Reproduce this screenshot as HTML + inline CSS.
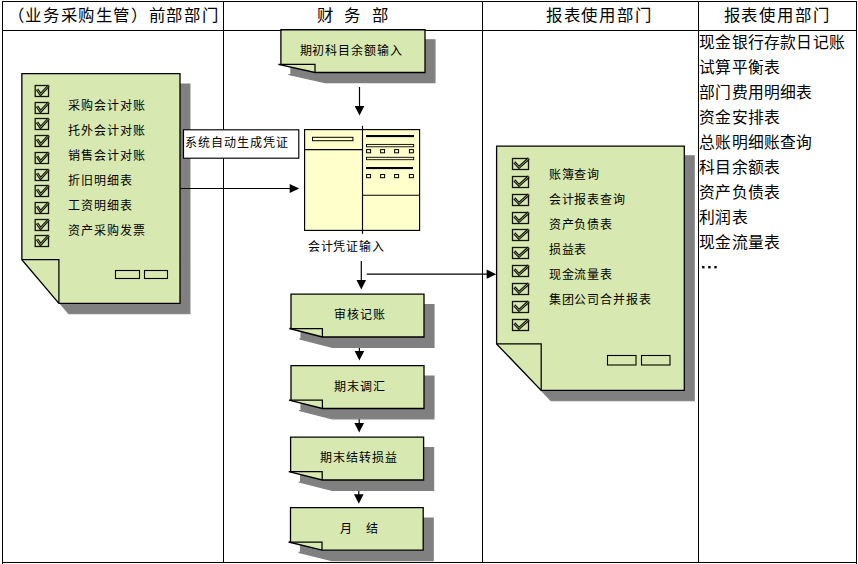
<!DOCTYPE html>
<html lang="zh-CN">
<head>
<meta charset="utf-8">
<title>财务流程图</title>
<style>
html,body{margin:0;padding:0;background:#fff}
body{width:858px;height:564px;position:relative;overflow:hidden;font-family:"Liberation Sans",sans-serif;color:#000}
svg{position:absolute;left:0;top:0}
.t{position:absolute;white-space:nowrap;line-height:1;transform:translateY(-50%);margin-top:0.5px}
.s{font-size:12px;letter-spacing:0.95px}
.m{font-size:15.8px;letter-spacing:0.2px}
.h{font-size:16.4px}
</style>
</head>
<body>
<svg width="858" height="564" viewBox="0 0 858 564">
<g shape-rendering="crispEdges" stroke="#000" stroke-width="1" fill="none">
<line x1="2.5" y1="1" x2="2.5" y2="564"/>
<line x1="223.5" y1="1" x2="223.5" y2="562.5"/>
<line x1="482.5" y1="1" x2="482.5" y2="562.5"/>
<line x1="698.5" y1="1" x2="698.5" y2="562.5"/>
<line x1="856.5" y1="1" x2="856.5" y2="564"/>
<line x1="2" y1="1.5" x2="857" y2="1.5"/>
<line x1="2" y1="30.5" x2="857" y2="30.5"/>
<line x1="2" y1="562.5" x2="857" y2="562.5"/>
</g>
<line x1="359.4" y1="337" x2="359.4" y2="352.1" stroke="#000" stroke-width="1.2"/>
<polygon points="354.59999999999997,351.1 364.2,351.1 359.4,360.6" fill="#000"/>
<line x1="359.2" y1="408.5" x2="359.2" y2="424.0" stroke="#000" stroke-width="1.2"/>
<polygon points="354.4,423.0 364.0,423.0 359.2,432.5" fill="#000"/>
<line x1="358.8" y1="480" x2="358.8" y2="495.3" stroke="#000" stroke-width="1.2"/>
<polygon points="354.0,494.3 363.6,494.3 358.8,503.8" fill="#000"/>
<polygon points="31.75,84.05 189.90,84.05 189.90,313.70 68.80,313.70 31.75,270.10" fill="#808080" stroke="#808080" stroke-width="1.15"/>
<polygon points="21.85,73.65 180.00,73.65 180.00,303.30 58.90,303.30 21.85,259.70" fill="#d7e8b0" stroke="#000" stroke-width="1.3" stroke-linejoin="miter"/>
<polyline points="21.85,259.70 58.90,259.70 58.90,303.30" fill="none" stroke="#000" stroke-width="1.25"/>
<rect x="35.2" y="85.5" width="13.3" height="11" fill="none" stroke="#14140c" stroke-width="1.3"/>
<path d="M37.00,89.30 L40.56,94.40 L48.70,85.60" fill="none" stroke="#14140c" stroke-width="2.8" stroke-linejoin="miter"/>
<path d="M37.00,89.30 L40.56,94.40 L48.70,85.60" fill="none" stroke="#b4c58e" stroke-width="0.75"/>
<rect x="35.2" y="102.5" width="13.3" height="11" fill="none" stroke="#14140c" stroke-width="1.3"/>
<path d="M37.00,106.30 L40.56,111.40 L48.70,102.60" fill="none" stroke="#14140c" stroke-width="2.8" stroke-linejoin="miter"/>
<path d="M37.00,106.30 L40.56,111.40 L48.70,102.60" fill="none" stroke="#b4c58e" stroke-width="0.75"/>
<rect x="35.2" y="118.5" width="13.3" height="11" fill="none" stroke="#14140c" stroke-width="1.3"/>
<path d="M37.00,122.30 L40.56,127.40 L48.70,118.60" fill="none" stroke="#14140c" stroke-width="2.8" stroke-linejoin="miter"/>
<path d="M37.00,122.30 L40.56,127.40 L48.70,118.60" fill="none" stroke="#b4c58e" stroke-width="0.75"/>
<rect x="35.2" y="135.5" width="13.3" height="11" fill="none" stroke="#14140c" stroke-width="1.3"/>
<path d="M37.00,139.30 L40.56,144.40 L48.70,135.60" fill="none" stroke="#14140c" stroke-width="2.8" stroke-linejoin="miter"/>
<path d="M37.00,139.30 L40.56,144.40 L48.70,135.60" fill="none" stroke="#b4c58e" stroke-width="0.75"/>
<rect x="35.2" y="152.5" width="13.3" height="11" fill="none" stroke="#14140c" stroke-width="1.3"/>
<path d="M37.00,156.30 L40.56,161.40 L48.70,152.60" fill="none" stroke="#14140c" stroke-width="2.8" stroke-linejoin="miter"/>
<path d="M37.00,156.30 L40.56,161.40 L48.70,152.60" fill="none" stroke="#b4c58e" stroke-width="0.75"/>
<rect x="35.2" y="169.5" width="13.3" height="11" fill="none" stroke="#14140c" stroke-width="1.3"/>
<path d="M37.00,173.30 L40.56,178.40 L48.70,169.60" fill="none" stroke="#14140c" stroke-width="2.8" stroke-linejoin="miter"/>
<path d="M37.00,173.30 L40.56,178.40 L48.70,169.60" fill="none" stroke="#b4c58e" stroke-width="0.75"/>
<rect x="35.2" y="185.5" width="13.3" height="11" fill="none" stroke="#14140c" stroke-width="1.3"/>
<path d="M37.00,189.30 L40.56,194.40 L48.70,185.60" fill="none" stroke="#14140c" stroke-width="2.8" stroke-linejoin="miter"/>
<path d="M37.00,189.30 L40.56,194.40 L48.70,185.60" fill="none" stroke="#b4c58e" stroke-width="0.75"/>
<rect x="35.2" y="202.5" width="13.3" height="11" fill="none" stroke="#14140c" stroke-width="1.3"/>
<path d="M37.00,206.30 L40.56,211.40 L48.70,202.60" fill="none" stroke="#14140c" stroke-width="2.8" stroke-linejoin="miter"/>
<path d="M37.00,206.30 L40.56,211.40 L48.70,202.60" fill="none" stroke="#b4c58e" stroke-width="0.75"/>
<rect x="35.2" y="219.5" width="13.3" height="11" fill="none" stroke="#14140c" stroke-width="1.3"/>
<path d="M37.00,223.30 L40.56,228.40 L48.70,219.60" fill="none" stroke="#14140c" stroke-width="2.8" stroke-linejoin="miter"/>
<path d="M37.00,223.30 L40.56,228.40 L48.70,219.60" fill="none" stroke="#b4c58e" stroke-width="0.75"/>
<rect x="35.2" y="235.5" width="13.3" height="11" fill="none" stroke="#14140c" stroke-width="1.3"/>
<path d="M37.00,239.30 L40.56,244.40 L48.70,235.60" fill="none" stroke="#14140c" stroke-width="2.8" stroke-linejoin="miter"/>
<path d="M37.00,239.30 L40.56,244.40 L48.70,235.60" fill="none" stroke="#b4c58e" stroke-width="0.75"/>
<rect x="115.5" y="270.5" width="24" height="8" fill="none" stroke="#000" stroke-width="1.1"/>
<rect x="144.5" y="270.5" width="23" height="8" fill="none" stroke="#000" stroke-width="1.1"/>
<polygon points="506.50,155.85 694.20,155.85 694.20,400.70 551.10,400.70 506.50,354.20" fill="#808080" stroke="#808080" stroke-width="1.15"/>
<polygon points="496.60,146.10 684.30,146.10 684.30,390.40 541.20,390.40 496.60,343.90" fill="#d7e8b0" stroke="#000" stroke-width="1.3" stroke-linejoin="miter"/>
<polyline points="496.60,343.90 541.20,343.90 541.20,390.40" fill="none" stroke="#000" stroke-width="1.25"/>
<rect x="512.5" y="158.5" width="16" height="11" fill="none" stroke="#14140c" stroke-width="1.3"/>
<path d="M514.30,162.30 L518.97,167.40 L528.70,158.60" fill="none" stroke="#14140c" stroke-width="2.8" stroke-linejoin="miter"/>
<path d="M514.30,162.30 L518.97,167.40 L528.70,158.60" fill="none" stroke="#b4c58e" stroke-width="0.75"/>
<rect x="512.5" y="176.5" width="16" height="11" fill="none" stroke="#14140c" stroke-width="1.3"/>
<path d="M514.30,180.30 L518.97,185.40 L528.70,176.60" fill="none" stroke="#14140c" stroke-width="2.8" stroke-linejoin="miter"/>
<path d="M514.30,180.30 L518.97,185.40 L528.70,176.60" fill="none" stroke="#b4c58e" stroke-width="0.75"/>
<rect x="512.5" y="194.5" width="16" height="11" fill="none" stroke="#14140c" stroke-width="1.3"/>
<path d="M514.30,198.30 L518.97,203.40 L528.70,194.60" fill="none" stroke="#14140c" stroke-width="2.8" stroke-linejoin="miter"/>
<path d="M514.30,198.30 L518.97,203.40 L528.70,194.60" fill="none" stroke="#b4c58e" stroke-width="0.75"/>
<rect x="512.5" y="212.5" width="16" height="11" fill="none" stroke="#14140c" stroke-width="1.3"/>
<path d="M514.30,216.30 L518.97,221.40 L528.70,212.60" fill="none" stroke="#14140c" stroke-width="2.8" stroke-linejoin="miter"/>
<path d="M514.30,216.30 L518.97,221.40 L528.70,212.60" fill="none" stroke="#b4c58e" stroke-width="0.75"/>
<rect x="512.5" y="229.5" width="16" height="11" fill="none" stroke="#14140c" stroke-width="1.3"/>
<path d="M514.30,233.30 L518.97,238.40 L528.70,229.60" fill="none" stroke="#14140c" stroke-width="2.8" stroke-linejoin="miter"/>
<path d="M514.30,233.30 L518.97,238.40 L528.70,229.60" fill="none" stroke="#b4c58e" stroke-width="0.75"/>
<rect x="512.5" y="247.5" width="16" height="11" fill="none" stroke="#14140c" stroke-width="1.3"/>
<path d="M514.30,251.30 L518.97,256.40 L528.70,247.60" fill="none" stroke="#14140c" stroke-width="2.8" stroke-linejoin="miter"/>
<path d="M514.30,251.30 L518.97,256.40 L528.70,247.60" fill="none" stroke="#b4c58e" stroke-width="0.75"/>
<rect x="512.5" y="265.5" width="16" height="11" fill="none" stroke="#14140c" stroke-width="1.3"/>
<path d="M514.30,269.30 L518.97,274.40 L528.70,265.60" fill="none" stroke="#14140c" stroke-width="2.8" stroke-linejoin="miter"/>
<path d="M514.30,269.30 L518.97,274.40 L528.70,265.60" fill="none" stroke="#b4c58e" stroke-width="0.75"/>
<rect x="512.5" y="283.5" width="16" height="11" fill="none" stroke="#14140c" stroke-width="1.3"/>
<path d="M514.30,287.30 L518.97,292.40 L528.70,283.60" fill="none" stroke="#14140c" stroke-width="2.8" stroke-linejoin="miter"/>
<path d="M514.30,287.30 L518.97,292.40 L528.70,283.60" fill="none" stroke="#b4c58e" stroke-width="0.75"/>
<rect x="512.5" y="301.5" width="16" height="11" fill="none" stroke="#14140c" stroke-width="1.3"/>
<path d="M514.30,305.30 L518.97,310.40 L528.70,301.60" fill="none" stroke="#14140c" stroke-width="2.8" stroke-linejoin="miter"/>
<path d="M514.30,305.30 L518.97,310.40 L528.70,301.60" fill="none" stroke="#b4c58e" stroke-width="0.75"/>
<rect x="512.5" y="319.5" width="16" height="11" fill="none" stroke="#14140c" stroke-width="1.3"/>
<path d="M514.30,323.30 L518.97,328.40 L528.70,319.60" fill="none" stroke="#14140c" stroke-width="2.8" stroke-linejoin="miter"/>
<path d="M514.30,323.30 L518.97,328.40 L528.70,319.60" fill="none" stroke="#b4c58e" stroke-width="0.75"/>
<rect x="607.5" y="355.5" width="28.5" height="9.5" fill="none" stroke="#000" stroke-width="1.1"/>
<rect x="641.5" y="355.5" width="28.5" height="9.5" fill="none" stroke="#000" stroke-width="1.1"/>
<polygon points="290.90,39.85 435.00,39.85 435.00,82.60 325.00,82.60 288.40,74.50 290.90,74.50" fill="#808080" stroke="#808080" stroke-width="1.15"/>
<polygon points="280.90,29.75 425.00,29.75 425.00,72.50 315.00,72.50 278.40,64.40 280.90,64.40" fill="#d7e8b0" stroke="#000" stroke-width="1.3" stroke-linejoin="miter"/>
<polyline points="280.90,64.40 315.00,64.40 315.00,72.50" fill="none" stroke="#000" stroke-width="1.25"/>
<polygon points="301.00,304.55 434.00,304.55 434.00,347.35 332.40,347.35 299.40,338.85 301.00,338.85" fill="#808080" stroke="#808080" stroke-width="1.15"/>
<polygon points="291.00,294.20 424.00,294.20 424.00,337.00 322.40,337.00 289.40,328.50 291.00,328.50" fill="#d7e8b0" stroke="#000" stroke-width="1.3" stroke-linejoin="miter"/>
<polyline points="291.00,328.50 322.40,328.50 322.40,337.00" fill="none" stroke="#000" stroke-width="1.25"/>
<polygon points="301.00,376.05 434.00,376.05 434.00,418.85 332.40,418.85 299.00,410.45 301.00,410.45" fill="#808080" stroke="#808080" stroke-width="1.15"/>
<polygon points="291.00,365.70 424.00,365.70 424.00,408.50 322.40,408.50 289.00,400.10 291.00,400.10" fill="#d7e8b0" stroke="#000" stroke-width="1.3" stroke-linejoin="miter"/>
<polyline points="291.00,400.10 322.40,400.10 322.40,408.50" fill="none" stroke="#000" stroke-width="1.25"/>
<polygon points="300.60,447.55 433.60,447.55 433.60,490.35 332.20,490.35 298.80,481.95 300.60,481.95" fill="#808080" stroke="#808080" stroke-width="1.15"/>
<polygon points="290.60,437.20 423.60,437.20 423.60,480.00 322.20,480.00 288.80,471.60 290.60,471.60" fill="#d7e8b0" stroke="#000" stroke-width="1.3" stroke-linejoin="miter"/>
<polyline points="290.60,471.60 322.20,471.60 322.20,480.00" fill="none" stroke="#000" stroke-width="1.25"/>
<polygon points="300.50,517.95 433.20,517.95 433.20,560.55 332.00,560.55 298.60,552.35 300.50,552.35" fill="#808080" stroke="#808080" stroke-width="1.15"/>
<polygon points="290.50,507.60 423.20,507.60 423.20,550.20 322.00,550.20 288.60,542.00 290.50,542.00" fill="#d7e8b0" stroke="#000" stroke-width="1.3" stroke-linejoin="miter"/>
<polyline points="290.50,542.00 322.00,542.00 322.00,550.20" fill="none" stroke="#000" stroke-width="1.25"/>
<line x1="359.5" y1="87" x2="359.5" y2="107.1" stroke="#000" stroke-width="1.2"/>
<polygon points="354.7,106.1 364.3,106.1 359.5,115.6" fill="#000"/>
<line x1="361.3" y1="261" x2="361.3" y2="281.0" stroke="#000" stroke-width="1.2"/>
<polygon points="356.5,280.0 366.1,280.0 361.3,289.5" fill="#000"/>
<line x1="180.5" y1="188.5" x2="290.7" y2="188.5" stroke="#000" stroke-width="1.2"/>
<polygon points="289.7,183.9 289.7,193.1 299.2,188.5" fill="#000"/>
<line x1="366.8" y1="274.2" x2="487.7" y2="274.2" stroke="#000" stroke-width="1.2"/>
<polygon points="486.7,269.59999999999997 486.7,278.8 496.2,274.2" fill="#000"/>
<rect x="183.5" y="129.8" width="115.3" height="28.4" fill="#fff" stroke="#000" stroke-width="1.15"/>
<rect x="304.6" y="129.6" width="115" height="100.8" fill="#ffffcc" stroke="#000" stroke-width="1.15"/>
<line x1="362.5" y1="125.8" x2="362.5" y2="233.8" stroke="#000" stroke-width="1.15"/>
<line x1="304.6" y1="149.6" x2="362.5" y2="149.6" stroke="#000" stroke-width="1.15"/>
<line x1="362.5" y1="195.2" x2="419.6" y2="195.2" stroke="#000" stroke-width="1.15"/>
<rect x="312.5" y="137.3" width="40.4" height="3.4" fill="none" stroke="#000" stroke-width="1"/>
<rect x="366" y="135" width="48" height="2.1" fill="#000"/>
<rect x="366.5" y="144.4" width="47.2" height="2.4" fill="none" stroke="#000" stroke-width="0.9"/>
<rect x="366.5" y="157.3" width="47.2" height="2.4" fill="none" stroke="#000" stroke-width="0.9"/>
<rect x="366" y="167" width="47" height="2.1" fill="#000"/>
<rect x="366.6" y="149.6" width="4" height="3.2" fill="none" stroke="#000" stroke-width="1"/>
<rect x="380.6" y="149.6" width="4" height="3.2" fill="none" stroke="#000" stroke-width="1"/>
<rect x="394.6" y="149.6" width="4" height="3.2" fill="none" stroke="#000" stroke-width="1"/>
<rect x="409.4" y="149.6" width="4" height="3.2" fill="none" stroke="#000" stroke-width="1"/>
<rect x="366.6" y="174.5" width="4" height="3.2" fill="none" stroke="#000" stroke-width="1"/>
<rect x="380.6" y="174.5" width="4" height="3.2" fill="none" stroke="#000" stroke-width="1"/>
<rect x="394.6" y="174.5" width="4" height="3.2" fill="none" stroke="#000" stroke-width="1"/>
<rect x="409.4" y="174.5" width="4" height="3.2" fill="none" stroke="#000" stroke-width="1"/>
<rect x="702.1" y="266.0" width="2.4" height="2.4" fill="#000"/><rect x="708.2" y="266.0" width="2.4" height="2.4" fill="#000"/><rect x="714.3" y="266.0" width="2.4" height="2.4" fill="#000"/>
</svg>
<div class="t h" style="left:7.6px;top:14.4px;letter-spacing:1.65px">（业务采购生管）前部部门</div>
<div class="t h" style="left:316.6px;top:14.4px;word-spacing:7.1px">财 务 部</div>
<div class="t h" style="left:545.8px;top:14.4px;letter-spacing:1.8px">报表使用部门</div>
<div class="t h" style="left:723.6px;top:14.4px;letter-spacing:1.8px">报表使用部门</div>
<div class="t m" style="left:699.2px;top:42.5px;">现金银行存款日记账</div>
<div class="t m" style="left:699.2px;top:67.5px;">试算平衡表</div>
<div class="t m" style="left:699.2px;top:92.5px;">部门费用明细表</div>
<div class="t m" style="left:699.2px;top:117.5px;">资金安排表</div>
<div class="t m" style="left:699.2px;top:142.5px;">总账明细账查询</div>
<div class="t m" style="left:699.2px;top:167.5px;">科目余额表</div>
<div class="t m" style="left:699.2px;top:192.5px;">资产负债表</div>
<div class="t m" style="left:699.2px;top:217.5px;">利润表</div>
<div class="t m" style="left:699.2px;top:242.5px;">现金流量表</div>
<div class="t s" style="left:67.8px;top:105.5px;">采购会计对账</div>
<div class="t s" style="left:67.8px;top:130.5px;">托外会计对账</div>
<div class="t s" style="left:67.8px;top:155.5px;">销售会计对账</div>
<div class="t s" style="left:67.8px;top:180.5px;">折旧明细表</div>
<div class="t s" style="left:67.8px;top:205.5px;">工资明细表</div>
<div class="t s" style="left:67.8px;top:230.5px;">资产采购发票</div>
<div class="t s" style="left:548.6px;top:174px;">账簿查询</div>
<div class="t s" style="left:548.6px;top:199px;">会计报表查询</div>
<div class="t s" style="left:548.6px;top:224px;">资产负债表</div>
<div class="t s" style="left:548.6px;top:249px;">损益表</div>
<div class="t s" style="left:548.6px;top:274px;">现金流量表</div>
<div class="t s" style="left:548.6px;top:299px;">集团公司合并报表</div>
<div class="t s" style="left:185.2px;top:142px;">系统自动生成凭证</div>
<div class="t s" style="left:307.6px;top:246px;">会计凭证输入</div>
<div class="t s" style="left:299.5px;top:50.2px;">期初科目余额输入</div>
<div class="t s" style="left:334px;top:314px;">审核记账</div>
<div class="t s" style="left:334px;top:386px;">期末调汇</div>
<div class="t s" style="left:320.3px;top:457px;">期末结转损益</div>
<div class="t s" style="left:340.2px;top:528px;">月　结</div>
</body>
</html>
